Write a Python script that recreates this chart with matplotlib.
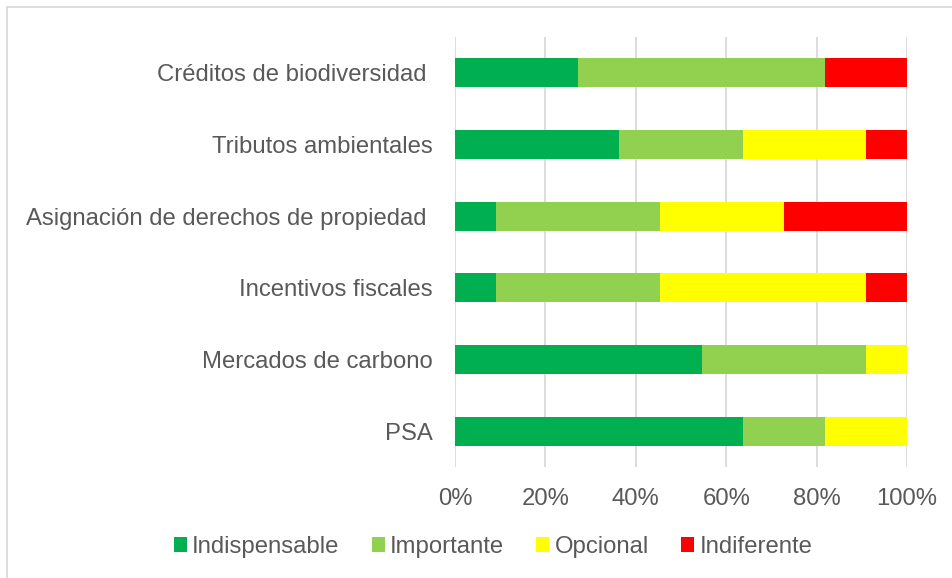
import matplotlib
matplotlib.use("Agg")
import matplotlib.pyplot as plt
import numpy as np
from matplotlib.patches import Rectangle

categories = ["PSA", "Mercados de carbono", "Incentivos fiscales",
              "Asignación de derechos de propiedad ", "Tributos ambientales",
              "Créditos de biodiversidad "]
indispensable = [63.64, 54.55, 9.09, 9.09, 36.36, 27.27]
importante = [18.18, 36.36, 36.36, 36.36, 27.27, 54.55]
opcional = [18.18, 9.09, 45.45, 27.27, 27.27, 0.0]
indiferente = [0.0, 0.0, 9.09, 27.27, 9.09, 18.18]
series_names = ["Indispensable", "Importante", "Opcional", "Indiferente"]
colors = ["#00B050", "#92D050", "#FFFF00", "#FF0000"]
xticks = [0, 20, 40, 60, 80, 100]
xticklabels = ["0%", "20%", "40%", "60%", "80%", "100%"]

plt.rcParams['font.family'] = ['Liberation Sans', 'DejaVu Sans']
text_color = "#595959"

fig = plt.figure(figsize=(9.53, 5.78), dpi=100)
ax = fig.add_axes([455/953, 1-467/578, (907-455)/953, (467-37)/578])

y = np.arange(len(categories))
left = np.zeros(len(categories))
for vals, name, c in zip([indispensable, importante, opcional, indiferente], series_names, colors):
    ax.barh(y, vals, left=left, height=0.405, color=c, label=name, zorder=3)
    left += np.array(vals)

ax.set_xlim(0, 100)
ax.set_ylim(-0.5, len(categories)-0.5)
ax.set_xticks(xticks)
ax.set_xticklabels(xticklabels)
ax.set_yticks(y)
ax.set_yticklabels(categories)
for s in ax.spines.values():
    s.set_visible(False)
ax.grid(axis='x', color="#D9D9D9", linewidth=1.3, zorder=0)
ax.tick_params(axis='both', length=0, labelsize=17.2, colors=text_color)
ax.tick_params(axis='x', pad=15)
ax.tick_params(axis='y', pad=16)

handles, labels = ax.get_legend_handles_labels()
leg = fig.legend(handles, labels, loc='center', bbox_to_anchor=(493/953, 1-547/578), ncol=4,
                 frameon=False, fontsize=17.2, handlelength=0.55, handleheight=0.55,
                 handletextpad=0.22, columnspacing=1.35)
for t in leg.get_texts():
    t.set_color(text_color)

fig.patches.append(Rectangle((7/953, -0.1), 1.2, 1-7/578+0.1, transform=fig.transFigure,
                             fill=False, edgecolor="#D9D9D9", linewidth=1.3))

fig.savefig("out.png", dpi=100)
